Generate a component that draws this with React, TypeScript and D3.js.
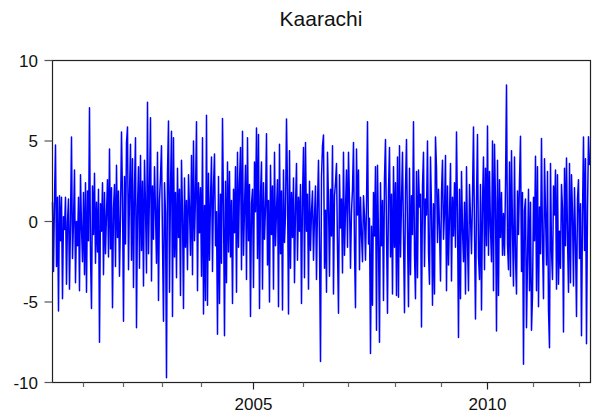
import React from "react";
import * as d3 from "d3";

// Weekly series, one array per calendar year (observations in order).
const chartTitle = "Kaarachi";
const years = [2000, 2001, 2002, 2003, 2004, 2005, 2006, 2007, 2008, 2009, 2010, 2011, 2012];

const v2000 = [1.2, -3.1, 1.4, 4.75, -2.8, 1.5, -5.56, 1.6, -1.2, 1.5, -4.8, 0.3, -0.5, 1.5, -3.9, 0.0, 1.4, -4.2, 0.0, 5.25, -2.3, 0.0, 3.2, -3.8, 0.0, -1.5, 1.5, -4.3, 2.9, -0.4];
const v2001 = [-2.5, 1.8, -3.3, 2.4, -4.4, 1.9, -1.2, 7.07, -2.1, -5.4, 2.2, -0.8, 3.0, -2.6, 1.2, -1.9, 2.0, -7.5, 1.1, -0.6, 2.4, -3.3, 1.8, -2.0, 0.5, 2.6, -2.2, 4.5, -1.7, 2.1, -5.35, 0.8, 2.3, -2.8, 3.5, -1.0, 1.9, -3.4, 0.4, 5.56];
const v2002 = [1.5, -6.2, 2.8, -1.4, 4.9, 5.87, -3.0, 1.7, 4.8, -2.4, 3.9, -4.1, 2.1, 5.2, -6.6, 0.9, 3.4, -2.9, 4.1, -1.8, 2.5, -4.0, 3.8, 1.0, -3.2, 7.4, -2.0, 1.9, 6.45, -3.7, 2.2, -1.1, 3.4, 0.6, -2.6, 4.3, -4.9, 1.3, 2.8];
const v2003 = [4.7, -1.3, -6.2, 2.4, 0.5, -9.7, 3.0, 6.24, -4.4, 2.1, 5.6, -5.9, 5.2, -2.2, 1.8, -3.5, 3.3, -1.0, 2.0, -4.6, 3.8, 0.4, -5.4, 2.7, -1.6, 1.3, -3.0, 2.9, 0.8, -2.1, 4.1, -3.3, 5.0, -1.2, 1.6, 6.2, -4.3, 2.4, -0.7];
const v2004 = [2.1, -3.4, 5.2, -5.75, 1.0, -4.9, 6.6, -5.2, 3.0, -2.4, 1.4, 4.0, -3.1, 2.2, 4.2, -1.5, 0.6, -7.0, 2.8, -5.1, 1.7, -2.6, 6.4, 0.9, -7.1, 2.5, -3.8, 3.7, -1.9, 3.1, -2.2, 1.3, -5.1, 2.0, -0.7, 3.4, -4.4, 4.3, -1.6, 2.4, 4.6, -3.0, 5.6, -2.1, 0.8, 3.5, -3.6, 5.2, -1.2, 2.3, -5.9, 1.1];
const v2005 = [2.0, -4.1, 3.7, 0.6, 5.8, -2.3, 5.4, -5.4, 1.6, 3.7, -4.2, 2.4, -1.1, 0.9, 5.45, -2.7, 1.3, -5.0, 3.5, -0.8, 2.2, -4.2, 4.3, -1.5, 0.7, 2.6, -5.3, 4.8, -2.0, 1.9, -5.5, 3.2, -1.3, 0.4, 6.37, 2.0, -5.75, 4.4, -2.9, 1.8, -1.0, 2.7, -3.8, 0.9, 3.6, -2.4, 1.5, -0.6, 2.3, -5.1];
const v2006 = [1.5, 4.6, -3.5, 4.9, -0.6, 1.7, -4.2, 2.5, -1.8, 0.6, 1.9, -2.4, 0.3, 2.2, -3.6, 1.0, 3.8, -1.5, -8.7, 2.8, 4.7, 5.37, -2.9, 0.7, -4.4, 4.3, 1.2, -3.4, 2.0, -0.9, 4.7, -4.5, 1.6, 2.4, 3.6, -1.7, -5.7, 2.9, -0.4, 1.4, -3.2, 4.3, -2.1, 0.8, 3.2, -1.6];
const v2007 = [4.3, 1.2, -2.9, 0.6, 2.0, 4.9, -1.7, -5.35, 4.5, 0.4, 3.2, -3.0, 1.5, -0.8, -2.5, 1.6, 0.3, -2.4, 1.0, 6.2, -1.4, 0.2, -8.2, -0.3, -5.2, 1.8, -0.9, 3.4, -6.75, 3.5, -1.2, -7.5, 2.4, -1.5, 1.3, -4.9, 2.7, 5.1, -0.6, -5.7, 1.9, 4.6, -2.2, 1.7, -4.5, 3.4];
const v2008 = [-1.6, 2.4, -4.6, 4.0, -4.7, 4.7, -2.2, 1.3, 4.3, -1.0, -5.66, 2.1, 5.1, -0.7, -5.3, 3.3, -3.3, 1.6, -0.8, 6.2, -2.0, -4.8, 3.1, -3.5, 3.2, 0.9, 1.7, -6.55, 2.2, 4.3, -2.8, 1.4, 0.4, 5.0, -1.9, -3.9, 4.0, 0.8, -5.2, 1.1, -4.5, 5.25, 3.3, -1.3, 2.0, -0.4];
const v2009 = [-3.7, 1.8, 3.8, -1.1, 0.6, 4.1, -4.3, 2.2, -2.7, 0.3, 3.6, -3.7, 1.5, -0.9, 2.4, -1.6, 5.56, 0.4, -7.2, 2.0, -4.8, 3.1, -0.5, -2.5, 1.2, -4.5, 3.4, -1.3, -4.3, 2.3, 0.2, -2.0, 1.6, 5.87, -0.8, -6.05, 1.4, 5.4, -2.2, -3.6, 2.3, -5.5, 1.1, 4.0, -3.0, 3.3];
const v2010 = [-1.5, 5.93, -2.1, 3.1, -0.4, -2.5, 5.0, -4.3, 4.8, 1.2, -6.8, 3.8, -4.6, 2.6, -1.0, 1.8, -2.1, 0.5, -2.1, 2.2, 8.48, -1.4, -3.0, 3.7, -3.4, 4.4, -0.6, -4.0, 4.0, -2.2, -4.5, 1.9, -0.8, 2.6, 5.3, -3.1, 1.8, -8.87, 0.7, 1.4, -6.6, -2.4, 2.0, -4.3, 1.2, -6.75];
const v2011 = [-4.6, 1.5, -1.2, 4.05, -4.3, 3.4, -5.3, 0.9, -2.0, 5.15, -1.4, -4.8, 3.9, 0.6, -2.7, 3.1, -5.5, -7.84, 3.6, -1.8, -3.6, 2.2, 0.4, 3.2, -4.2, 2.9, -3.9, -0.6, -2.9, 2.3, 0.8, -6.86, 3.3, -1.5, 3.95, -0.9, -4.4, 3.6, -3.8, 2.9, 0.5, -4.0, 2.1, -1.2, -5.9, 1.4];
const v2012 = [2.6, -2.3, 1.1, -7.1, 0.4, 5.25, -1.8, 3.9, -7.6, 0.7, 5.27, 3.5];

const seriesByYear = [v2000, v2001, v2002, v2003, v2004, v2005, v2006, v2007, v2008, v2009, v2010, v2011, v2012];

const yTicks = [-10, -5, 0, 5, 10];
const labeledYears = [2005, 2010];

const FONT = "'Liberation Sans', Arial, Helvetica, sans-serif";

export default function App() {
  const width = 594;
  const height = 419;
  const left = 52.5;
  const right = 590.5;
  const top = 60.5;
  const bottom = 382.5;

  const values = seriesByYear.flat();
  const yearStarts: { year: number; index: number }[] = [];
  let acc = 0;
  seriesByYear.forEach((arr, k) => {
    yearStarts.push({ year: years[k], index: acc });
    acc += arr.length;
  });

  const x = d3.scaleLinear().domain([0, values.length - 1]).range([left, right - 1]);
  const y = d3.scaleLinear().domain([-10, 10]).range([bottom, top]);

  const linePath = d3
    .line<number>()
    .x((_, i) => x(i))
    .y((d) => y(d))(values) || "";

  // year ticks sit at the first observation of each year (skip the series start)
  const xTicks = yearStarts.filter((s) => s.index > 0);

  return (
    <svg
      width={width}
      height={height}
      viewBox={`0 0 ${width} ${height}`}
      style={{ position: "absolute", left: 0, top: 0, background: "#fff" }}
    >
      <rect x={0} y={0} width={width} height={height} fill="#fff" />
      <text
        x={321}
        y={26}
        textAnchor="middle"
        fontFamily={FONT}
        fontSize={21}
        fill="#111"
      >
        {chartTitle}
      </text>

      <path d={linePath} fill="none" stroke="#0000ff" strokeWidth={1.5} strokeLinejoin="round" />

      {/* plot frame */}
      <rect
        x={left}
        y={top}
        width={right - left}
        height={bottom - top}
        fill="none"
        stroke="#222"
        strokeWidth={1.2}
      />

      {/* y axis */}
      {yTicks.map((t) => (
        <g key={t}>
          <line x1={left - 8} x2={left} y1={y(t)} y2={y(t)} stroke="#555" strokeWidth={1.2} />
          <text
            x={38}
            y={y(t) + 6}
            textAnchor="end"
            fontFamily={FONT}
            fontSize={17}
            fill="#111"
          >
            {t}
          </text>
        </g>
      ))}

      {/* x axis */}
      {xTicks.map((s) => {
        const major = labeledYears.includes(s.year);
        const px = Math.round(x(s.index)) + 0.5;
        return (
          <g key={s.year}>
            <line
              x1={px}
              x2={px}
              y1={bottom}
              y2={bottom + (major ? 7 : 4.5)}
              stroke={major ? "#222" : "#666"}
              strokeWidth={1.2}
            />
            {major && (
              <text
                x={px}
                y={410}
                textAnchor="middle"
                fontFamily={FONT}
                fontSize={17}
                fill="#111"
              >
                {s.year}
              </text>
            )}
          </g>
        );
      })}
    </svg>
  );
}
